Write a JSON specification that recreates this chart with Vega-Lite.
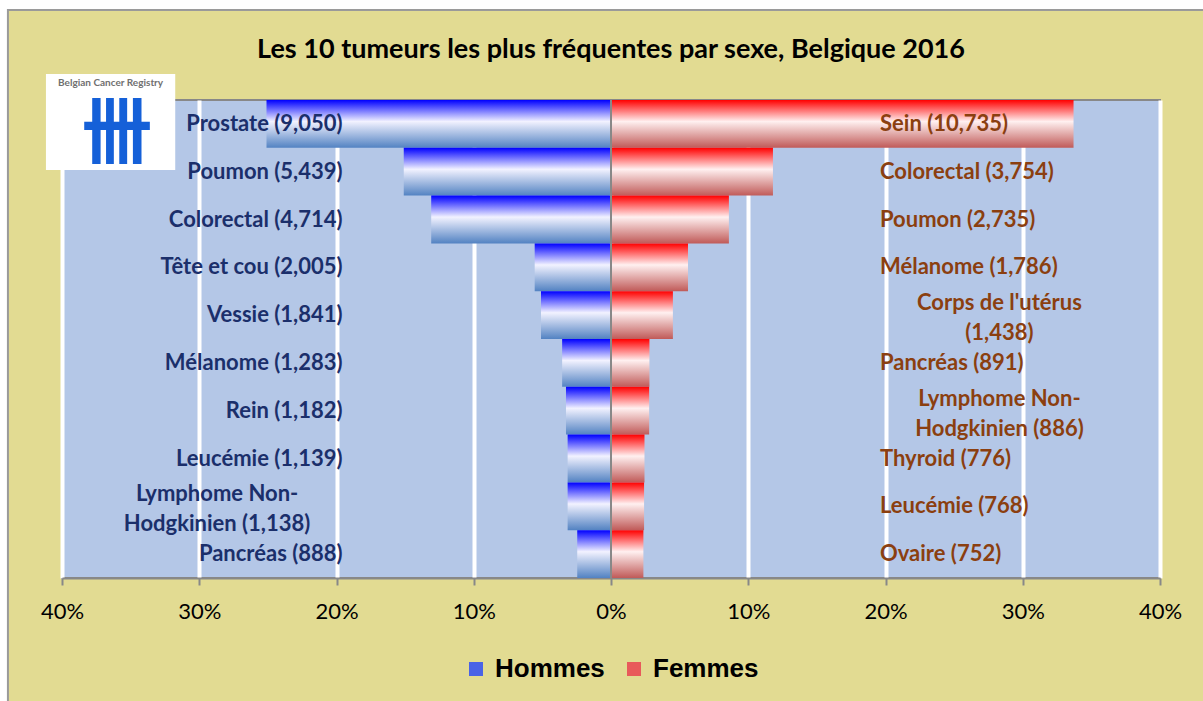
{
  "$schema": "https://vega.github.io/schema/vega-lite/v6.json",
  "width": 1098,
  "height": 478,
  "autosize": {"type": "none"},
  "padding": {"left": 62, "top": 100, "right": 43, "bottom": 123},
  "background": "#E2DB92",
  "config": {
    "view": {"fill": "#B4C7E7", "stroke": "#888888", "strokeWidth": 2}
  },
  "data": {
    "values": [
      {"sex": "Hommes", "rank": 1, "label": "Prostate (9,050)", "share": -0.251, "lines": 1},
      {"sex": "Hommes", "rank": 2, "label": "Poumon (5,439)", "share": -0.151, "lines": 1},
      {"sex": "Hommes", "rank": 3, "label": "Colorectal (4,714)", "share": -0.131, "lines": 1},
      {"sex": "Hommes", "rank": 4, "label": "Tête et cou (2,005)", "share": -0.0556, "lines": 1},
      {"sex": "Hommes", "rank": 5, "label": "Vessie (1,841)", "share": -0.051, "lines": 1},
      {"sex": "Hommes", "rank": 6, "label": "Mélanome (1,283)", "share": -0.0356, "lines": 1},
      {"sex": "Hommes", "rank": 7, "label": "Rein (1,182)", "share": -0.0328, "lines": 1},
      {"sex": "Hommes", "rank": 8, "label": "Leucémie (1,139)", "share": -0.0316, "lines": 1},
      {"sex": "Hommes", "rank": 9, "label": "Lymphome Non-\nHodgkinien (1,138)", "share": -0.0316, "lines": 2},
      {"sex": "Hommes", "rank": 10, "label": "Pancréas (888)", "share": -0.0246, "lines": 1},
      {"sex": "Femmes", "rank": 1, "label": "Sein (10,735)", "share": 0.337, "lines": 1},
      {"sex": "Femmes", "rank": 2, "label": "Colorectal  (3,754)", "share": 0.118, "lines": 1},
      {"sex": "Femmes", "rank": 3, "label": "Poumon (2,735)", "share": 0.0859, "lines": 1},
      {"sex": "Femmes", "rank": 4, "label": "Mélanome (1,786)", "share": 0.0561, "lines": 1},
      {"sex": "Femmes", "rank": 5, "label": "Corps de l'utérus\n(1,438)", "share": 0.0451, "lines": 2},
      {"sex": "Femmes", "rank": 6, "label": "Pancréas (891)", "share": 0.028, "lines": 1},
      {"sex": "Femmes", "rank": 7, "label": "Lymphome Non-\nHodgkinien (886)", "share": 0.0278, "lines": 2},
      {"sex": "Femmes", "rank": 8, "label": "Thyroid  (776)", "share": 0.0244, "lines": 1},
      {"sex": "Femmes", "rank": 9, "label": "Leucémie (768)", "share": 0.0241, "lines": 1},
      {"sex": "Femmes", "rank": 10, "label": "Ovaire (752)", "share": 0.0236, "lines": 1}
    ]
  },
  "resolve": {"scale": {"y": "independent"}, "axis": {"y": "independent"}},
  "layer": [
    {
      "transform": [{"filter": "datum.sex == 'Hommes'"}],
      "mark": {"type": "bar", "fill": {"gradient": "linear", "x1": 0, "y1": 0, "x2": 0, "y2": 1,
               "stops": [{"offset": 0, "color": "#0000FF"}, {"offset": 0.45, "color": "#F2F2FF"}, {"offset": 1, "color": "#5282C2"}]}},
      "encoding": {
        "y": {"field": "rank", "type": "ordinal", "axis": null,
              "scale": {"domain": [1,2,3,4,5,6,7,8,9,10], "paddingInner": 0, "paddingOuter": 0}},
        "x": {"field": "share", "type": "quantitative",
              "scale": {"domain": [-0.4, 0.4], "nice": false, "zero": false},
              "axis": {
                "title": null,
                "values": [-0.4, -0.3, -0.2, -0.1, 0, 0.1, 0.2, 0.3, 0.4],
                "labelExpr": "format(abs(datum.value), '.0%')",
                "grid": true, "gridColor": "#FFFFFF", "gridWidth": 4,
                "domainColor": "#888888", "domainWidth": 2,
                "tickColor": "#888888", "tickWidth": 2, "tickSize": 7,
                "labelFont": "Lato", "labelFontSize": 22, "labelColor": "#000000",
                "labelPadding": 16, "labelFlush": false
              }},
        "x2": {"datum": 0}
      }
    },
    {
      "transform": [{"filter": "datum.sex == 'Femmes'"}],
      "mark": {"type": "bar", "fill": {"gradient": "linear", "x1": 0, "y1": 0, "x2": 0, "y2": 1,
               "stops": [{"offset": 0, "color": "#FF0000"}, {"offset": 0.45, "color": "#FFF0F0"}, {"offset": 1, "color": "#C05A58"}]}},
      "encoding": {
        "y": {"field": "rank", "type": "ordinal", "axis": null,
              "scale": {"domain": [1,2,3,4,5,6,7,8,9,10], "paddingInner": 0, "paddingOuter": 0}},
        "x": {"field": "share", "type": "quantitative"},
        "x2": {"datum": 0}
      }
    },
    {
      "transform": [{"filter": "datum.rank < 0"}],
      "mark": {"type": "square", "opacity": 1},
      "encoding": {
        "x": {"field": "share", "type": "quantitative"},
        "color": {
          "field": "sex", "type": "nominal",
          "scale": {"domain": ["Hommes", "Femmes"], "range": ["#4A63E6", "#E85A5A"]},
          "legend": {
            "title": null, "orient": "none", "direction": "horizontal",
            "legendX": 401, "legendY": 556,
            "symbolType": "square", "symbolSize": 196, "symbolStrokeWidth": 0, "symbolOpacity": 1,
            "labelFont": "Liberation Sans", "labelFontSize": 26, "labelFontWeight": "bold",
            "labelColor": "#000000", "columnPadding": 16, "labelOffset": 6
          }
        }
      }
    },
    {
      "mark": {"type": "rule", "color": "#888888", "strokeWidth": 2},
      "encoding": {"x": {"datum": 0}}
    },
    {
      "transform": [{"filter": "datum.sex == 'Hommes' && datum.lines == 1"}],
      "mark": {"type": "text", "align": "right", "baseline": "middle", "font": "Lato", "fontSize": 22, "fontWeight": "bold", "color": "#1B2F6B"},
      "encoding": {
        "y": {"field": "rank", "type": "ordinal", "axis": null,
              "scale": {"domain": [1,2,3,4,5,6,7,8,9,10], "paddingInner": 0, "paddingOuter": 0}},
        "x": {"datum": -0.1956},
        "text": {"field": "label"}
      }
    },
    {
      "transform": [{"filter": "datum.sex == 'Hommes' && datum.lines == 2"}],
      "mark": {"type": "text", "align": "center", "baseline": "middle", "lineBreak": "\n", "lineHeight": 30, "dy": -12, "font": "Lato", "fontSize": 22, "fontWeight": "bold", "color": "#1B2F6B"},
      "encoding": {
        "y": {"field": "rank", "type": "ordinal", "axis": null,
              "scale": {"domain": [1,2,3,4,5,6,7,8,9,10], "paddingInner": 0, "paddingOuter": 0}},
        "x": {"datum": -0.287},
        "text": {"field": "label"}
      }
    },
    {
      "transform": [{"filter": "datum.sex == 'Femmes' && datum.lines == 1"}],
      "mark": {"type": "text", "align": "left", "baseline": "middle", "font": "Lato", "fontSize": 22, "fontWeight": "bold", "color": "#8B3F10"},
      "encoding": {
        "y": {"field": "rank", "type": "ordinal", "axis": null,
              "scale": {"domain": [1,2,3,4,5,6,7,8,9,10], "paddingInner": 0, "paddingOuter": 0}},
        "x": {"datum": 0.196},
        "text": {"field": "label"}
      }
    },
    {
      "transform": [{"filter": "datum.sex == 'Femmes' && datum.lines == 2"}],
      "mark": {"type": "text", "align": "center", "baseline": "middle", "lineBreak": "\n", "lineHeight": 30, "dy": -12, "font": "Lato", "fontSize": 22, "fontWeight": "bold", "color": "#8B3F10"},
      "encoding": {
        "y": {"field": "rank", "type": "ordinal", "axis": null,
              "scale": {"domain": [1,2,3,4,5,6,7,8,9,10], "paddingInner": 0, "paddingOuter": 0}},
        "x": {"datum": 0.283},
        "text": {"field": "label"}
      }
    },
    {
      "data": {"values": [{"logo": "Belgian Cancer Registry"}]},
      "mark": {"type": "rect", "color": "#FFFFFF"},
      "encoding": {
        "x": {"datum": -0.4117}, "x2": {"datum": -0.3175},
        "y": {"datum": -0.544, "type": "quantitative", "axis": null, "scale": {"domain": [0, 10], "reverse": true, "nice": false, "zero": false}},
        "y2": {"datum": 1.464}
      }
    },
    {
      "data": {"values": [{"logo": "Belgian Cancer Registry"}]},
      "mark": {"type": "text", "font": "Lato", "fontSize": 10, "fontWeight": "bold", "color": "#707070", "baseline": "middle"},
      "encoding": {
        "x": {"datum": -0.3646},
        "y": {"datum": -0.356, "type": "quantitative", "axis": null, "scale": {"domain": [0, 10], "reverse": true, "nice": false, "zero": false}},
        "text": {"field": "logo"}
      }
    },
    {
      "data": {"values": [{"mark": "卌"}]},
      "mark": {"type": "text", "font": "Noto Sans CJK SC", "fontSize": 72, "fontWeight": "bold", "color": "#1560D8", "baseline": "middle"},
      "encoding": {
        "x": {"datum": -0.3600},
        "y": {"datum": 0.74, "type": "quantitative", "axis": null, "scale": {"domain": [0, 10], "reverse": true, "nice": false, "zero": false}},
        "text": {"field": "mark"}
      }
    },
    {
      "data": {"values": [{"frame": "outer"}]},
      "mark": {"type": "rect", "color": "#FFFFFF"},
      "encoding": {
        "x": {"datum": -0.47}, "x2": {"datum": -0.4394},
        "y": {"datum": -2.3, "type": "quantitative", "axis": null, "scale": {"domain": [0, 10], "reverse": true, "nice": false, "zero": false}},
        "y2": {"datum": 13}
      }
    },
    {
      "data": {"values": [{"frame": "outer"}]},
      "mark": {"type": "rect", "color": "#FFFFFF"},
      "encoding": {
        "x": {"datum": -0.47}, "x2": {"datum": 0.46},
        "y": {"datum": -2.3, "type": "quantitative", "axis": null, "scale": {"domain": [0, 10], "reverse": true, "nice": false, "zero": false}},
        "y2": {"datum": -1.883}
      }
    },
    {
      "data": {"values": [{"frame": "outer"}]},
      "mark": {"type": "rect", "fill": "transparent", "stroke": "#9A9A9A", "strokeWidth": 2},
      "encoding": {
        "x": {"datum": -0.4394}, "x2": {"datum": 0.46},
        "y": {"datum": -1.883, "type": "quantitative", "axis": null, "scale": {"domain": [0, 10], "reverse": true, "nice": false, "zero": false}},
        "y2": {"datum": 13}
      }
    },
    {
      "data": {"values": [{"title": "Les 10 tumeurs les plus fréquentes par sexe, Belgique 2016"}]},
      "mark": {"type": "text", "font": "Lato", "fontSize": 27, "fontWeight": "bold", "color": "#000000", "align": "center", "baseline": "middle"},
      "encoding": {
        "x": {"datum": 0},
        "y": {"datum": -1.046, "type": "quantitative", "axis": null, "scale": {"domain": [0, 10], "reverse": true, "nice": false, "zero": false}},
        "text": {"field": "title"}
      }
    }
  ]
}
